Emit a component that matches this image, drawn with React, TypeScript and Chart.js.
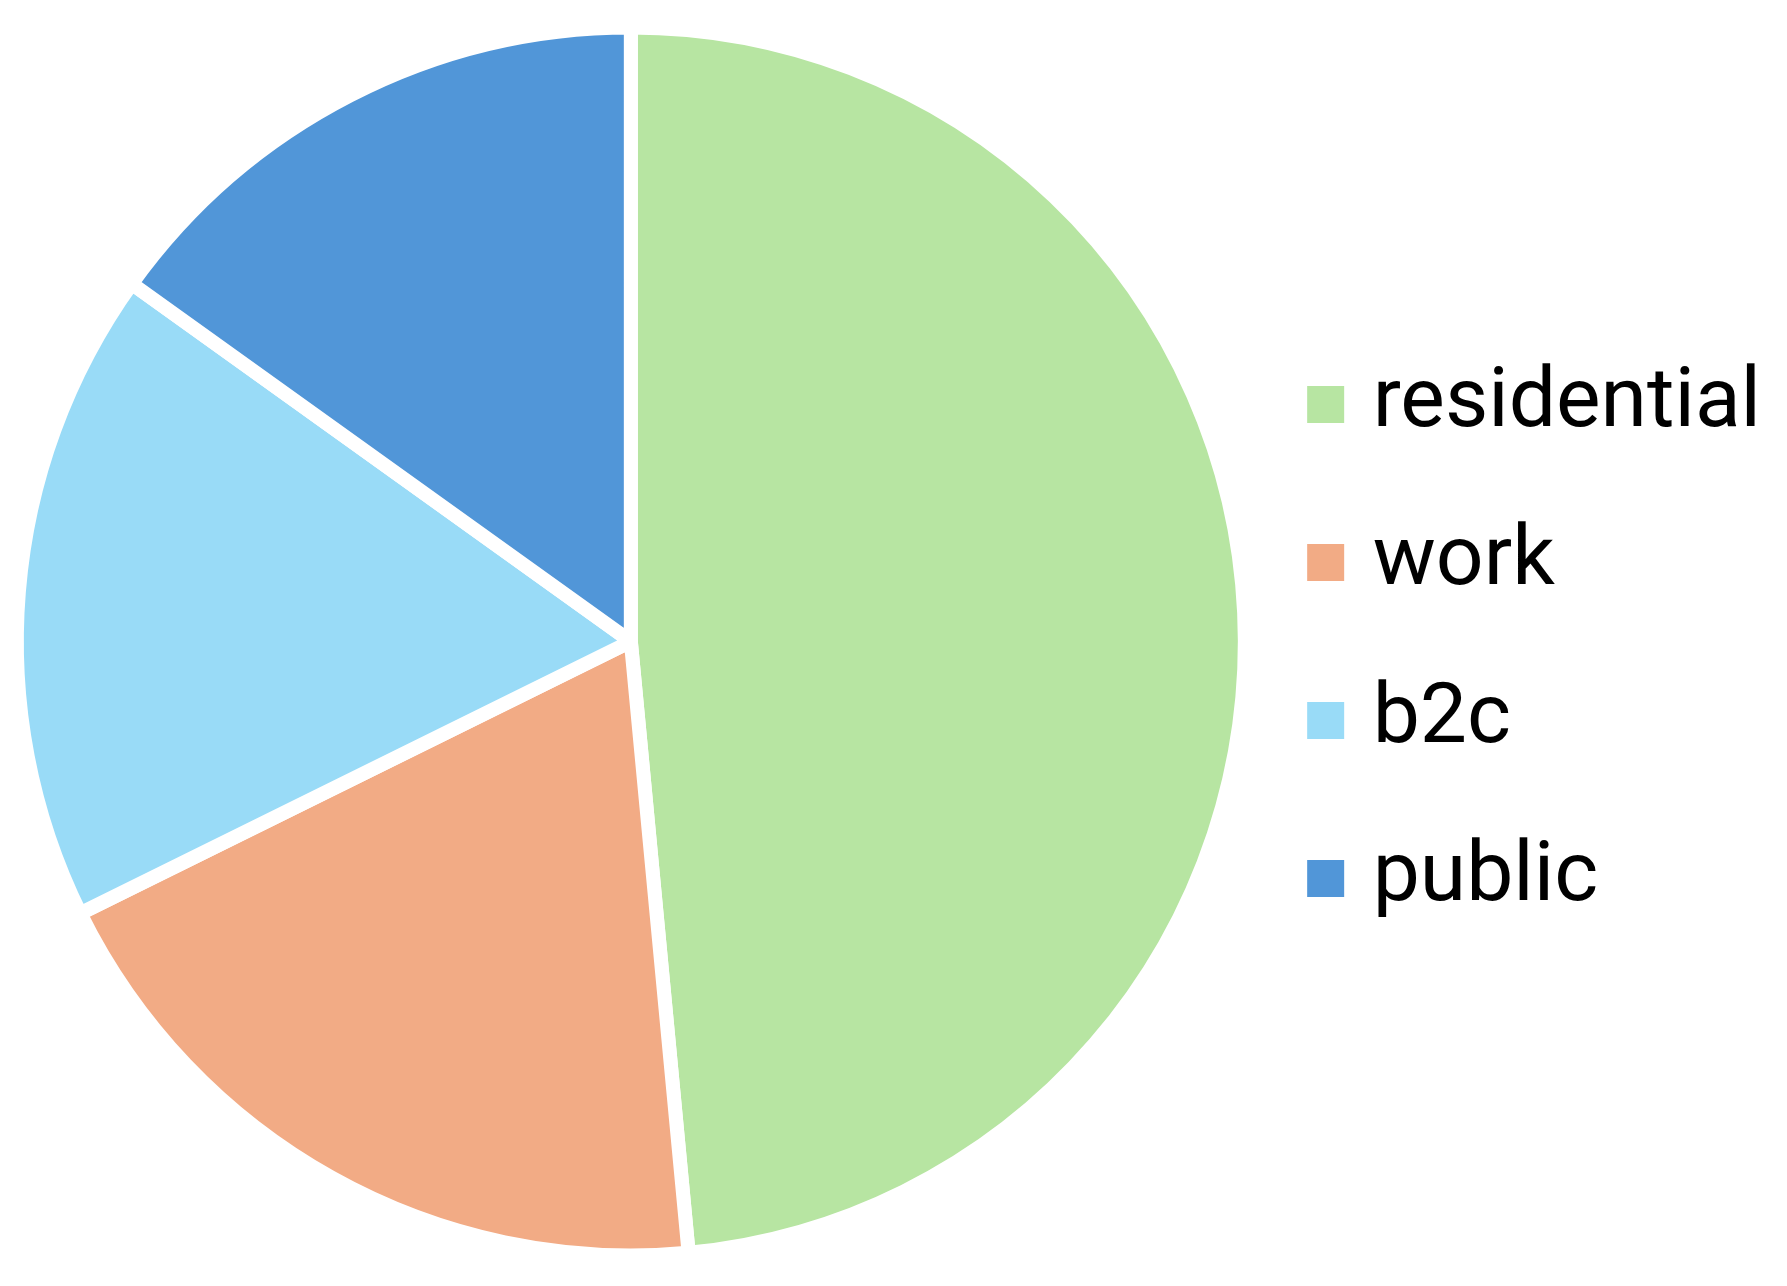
import React, { useEffect, useRef } from "react";
import { Chart, registerables } from "chart.js";

Chart.register(...registerables);

const categories = ["residential", "work", "b2c", "public"];
const shares = [48.5, 19.2, 17.2, 15.1];
const colors = ["#b7e5a2", "#f2ab85", "#99dbf7", "#5196d8"];

export default function App() {
  const ref = useRef<HTMLCanvasElement | null>(null);
  useEffect(() => {
    if (!ref.current) return;
    const baseGen = (Chart as any).overrides.pie.plugins.legend.labels.generateLabels;
    const chart = new Chart(ref.current, {
      type: "pie",
      data: {
        labels: categories,
        datasets: [
          {
            data: shares,
            backgroundColor: colors,
            borderColor: "#ffffff",
            borderWidth: 14,
          },
        ],
      },
      options: {
        responsive: false,
        animation: false,
        devicePixelRatio: 1,
        radius: 614,
        layout: { padding: { left: 15, right: 16, top: 21, bottom: 24 } },
        plugins: {
          tooltip: { enabled: false },
          legend: {
            position: "right",
            labels: {
              usePointStyle: true,
              pointStyle: "rect",
              boxWidth: 10,
              boxHeight: 37,
              padding: 74,
              color: "#000000",
              font: { family: "Roboto", size: 84 },
              generateLabels: (c: any) =>
                baseGen(c).map((l: any) => ({ ...l, lineWidth: 0, pointStyle: "rect" })),
            },
          },
        },
      } as any,
    });
    return () => chart.destroy();
  }, []);
  return (
    <div style={{ position: "absolute", left: 0, top: 0, width: 1787, height: 1286 }}>
      <canvas ref={ref} width={1787} height={1286} style={{ width: 1787, height: 1286, display: "block" }} />
    </div>
  );
}
